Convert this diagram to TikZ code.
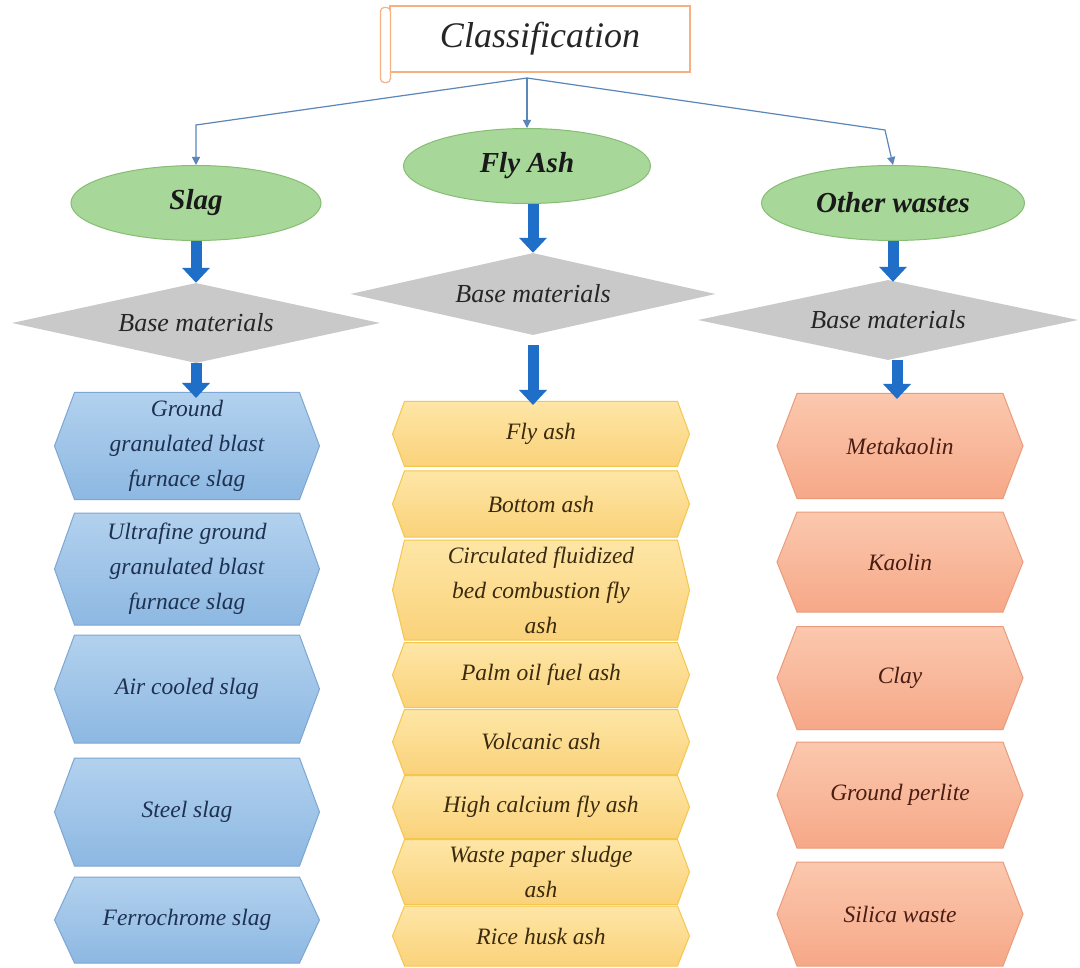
\documentclass[tikz,border=0pt]{standalone}
\usepackage{fontspec}
\setmainfont{Liberation Serif}
\usepackage{tikz}
\usetikzlibrary{arrows.meta,positioning,shapes.geometric,shapes.symbols,calc}
\definecolor{linkblue}{HTML}{5B86B8}
\definecolor{arrowblue}{HTML}{1F6FC8}
\definecolor{scrollorange}{HTML}{F4B183}
\definecolor{leafgreen}{HTML}{A8D899}
\definecolor{leafedge}{HTML}{86BD74}
\definecolor{basegray}{HTML}{C9C9C9}
\definecolor{slagtop}{HTML}{B2D1EE}
\definecolor{slagbot}{HTML}{8DB8E2}
\definecolor{slagedge}{HTML}{7DA6D3}
\definecolor{slagtext}{HTML}{1E3150}
\definecolor{ashtop}{HTML}{FEE6A6}
\definecolor{ashbot}{HTML}{FAD27A}
\definecolor{ashedge}{HTML}{F5C64E}
\definecolor{ashtext}{HTML}{3A2A0E}
\definecolor{wastetop}{HTML}{FBC8AE}
\definecolor{wastebot}{HTML}{F6A888}
\definecolor{wasteedge}{HTML}{EB9B7B}
\definecolor{wastetext}{HTML}{4A1D12}

\begin{document}
\begin{tikzpicture}[x=1pt,y=-1pt,
  root/.style={draw=scrollorange,line width=1.2pt,fill=white,minimum width=300pt,minimum height=66pt,
    font=\fontsize{36}{40}\selectfont\itshape,text=black!85},
  link/.style={draw=linkblue,line width=1.2pt,-{Triangle[width=8pt,length=8pt]}},
  bigarrow/.style={draw=arrowblue,line width=11pt,-{Triangle[width=27pt,length=15pt]}},
  group/.style={ellipse,draw=leafedge,line width=1pt,fill=leafgreen,inner sep=0pt,
    font=\fontsize{29}{32}\selectfont\bfseries\itshape,text=black!90},
  base/.style={diamond,fill=basegray,aspect=4.6,minimum height=80pt,inner sep=0pt,
    font=\fontsize{26}{30}\selectfont\itshape,text=black!85},
  item/.style={signal,signal to=west and east,line width=1pt,inner sep=0pt,align=center,
    font=\fontsize{23.5}{35}\selectfont\itshape},
  slagitem/.style={item,draw=slagedge,top color=slagtop,bottom color=slagbot,text=slagtext,minimum width=265pt},
  ashitem/.style={item,draw=ashedge,top color=ashtop,bottom color=ashbot,text=ashtext,minimum width=297pt},
  wasteitem/.style={item,draw=wasteedge,top color=wastetop,bottom color=wastebot,text=wastetext,minimum width=246pt}]

  \useasboundingbox[fill=white] (0,0) rectangle (1080,968);

  % title scroll
  \node[root] (root) at (540,39) {Classification};
  \draw[draw=scrollorange,line width=1.2pt,fill=white,rounded corners=4pt]
    ([xshift=-9pt,yshift=-2pt]root.north west) rectangle ([xshift=1pt,yshift=-10pt]root.south west);
  \coordinate (hub) at (527,78);
  \coordinate (kinkL) at (196,125);
  \coordinate (kinkR) at (885,130);

  % three groups
  \node[group,minimum width=250pt,minimum height=75pt] (gslag) at (196,203) {Slag};
  \node[group,minimum width=247pt,minimum height=75pt] (gfly) at (527,166) {Fly Ash};
  \node[group,minimum width=263pt,minimum height=75pt] (gother) at (893,203) {Other wastes};

  \draw[link] (hub) -- (kinkL) -- (gslag.north);
  \draw[link] (hub) -- (hub |- gfly.north);
  \draw[link] (hub) -- (kinkR) -- (gother.north);

  % base materials
  \node[base,minimum width=368pt] (bslag) at (196,323) {Base materials};
  \node[base,minimum width=365pt,minimum height=82pt] (bfly) at (533,294) {Base materials};
  \node[base,minimum width=380pt] (bother) at (888,320) {Base materials};

  % slag column
  \foreach \t/\y/\h [count=\i] in {{Ground\\granulated blast\\furnace slag}/446/107,
      {Ultrafine ground\\granulated blast\\furnace slag}/569/112,
      {Air cooled slag}/689/108,{Steel slag}/812/108,{Ferrochrome slag}/920/86} {
    \pgfmathsetmacro\ang{2*atan(\h/40)}
    \node[slagitem,minimum height=\h pt,signal pointer angle=\ang] (sl\i) at (187,\y) {\t};
  }
  % fly ash column
  \foreach \t/\y/\h [count=\i] in {{Fly ash}/434/65,{Bottom ash}/504/66,
      {Circulated fluidized\\bed combustion fly\\ash}/590/100,{Palm oil fuel ash}/675/65,
      {Volcanic ash}/742/65,{High calcium fly ash}/807/63,{Waste paper sludge\\ash}/872/65,
      {Rice husk ash}/936/60} {
    \pgfmathsetmacro\ang{2*atan(\h/24)}
    \node[ashitem,minimum height=\h pt,signal pointer angle=\ang] (fa\i) at (541,\y) {\t};
  }
  % other wastes column
  \foreach \t/\y/\h [count=\i] in {{Metakaolin}/446/105,{Kaolin}/562/100,{Clay}/678/103,
      {Ground perlite}/795/106,{Silica waste}/914/104} {
    \pgfmathsetmacro\ang{2*atan(\h/40)}
    \node[wasteitem,minimum height=\h pt,signal pointer angle=\ang] (ow\i) at (900,\y) {\t};
  }

  % thick arrows
  \draw[bigarrow] (gslag.south) -- (bslag.north);
  \draw[bigarrow] (gfly.south -| bfly.north) -- (bfly.north);
  \draw[bigarrow] (gother.south) -- ($(gother.south |- bother.north)+(0,2)$);
  \draw[bigarrow] (bslag.south) -- ($(bslag.south |- sl1.north)+(0,6)$);
  \draw[bigarrow] ($(bfly.south)+(0,10)$) -- ($(bfly.south |- fa1.north)+(0,4)$);
  \draw[bigarrow] ($(bother.south -| ow1.north)+(-3,0)$) -- ($(ow1.north)+(-3,6)$);
\end{tikzpicture}
\end{document}
